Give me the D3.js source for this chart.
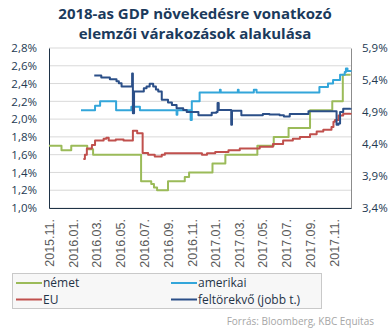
<!DOCTYPE html>
<html lang="hu">
<head>
<meta charset="utf-8">
<title>2018-as GDP növekedésre vonatkozó elemzői várakozások alakulása</title>
<script src="https://cdn.jsdelivr.net/npm/d3@7/dist/d3.min.js"></script>
<style>
  html, body { margin: 0; padding: 0; background: #fff; }
  svg { display: block; font-family: "Open Sans", "DejaVu Sans", sans-serif; }
</style>
</head>
<body>
<svg id="chart" width="390" height="330"></svg>
<script>
// Consensus forecasts for 2018 GDP growth, percent (date, value)
const nemet = [
  ["2015-11-01",1.70],["2015-12-03",1.65],["2015-12-28",1.70],["2016-02-07",1.66],["2016-02-22",1.60],
  ["2016-06-24",1.30],["2016-07-20",1.27],["2016-07-27",1.23],["2016-08-04",1.20],["2016-09-01",1.30],
  ["2016-10-14",1.35],["2016-10-25",1.40],["2016-12-24",1.50],["2017-01-26",1.60],["2017-04-18",1.70],
  ["2017-05-30",1.80],["2017-07-07",1.90],["2017-08-31",2.10],["2017-10-27",2.20],["2017-11-23",2.50],
  ["2017-12-13",2.50]
];
const amerikai = [
  ["2016-01-22",2.10],["2016-02-27",2.15],["2016-03-11",2.20],["2016-04-21",2.10],["2016-05-30",2.14],
  ["2016-06-21",2.10],["2016-09-23",2.05],["2016-09-25",2.10],["2016-10-29",1.99],["2016-11-01",2.20],
  ["2016-11-21",2.30],["2017-01-12",2.33],["2017-01-14",2.30],["2017-02-27",2.33],["2017-03-01",2.30],
  ["2017-04-09",2.33],["2017-04-16",2.30],["2017-09-24",2.36],["2017-10-16",2.40],["2017-10-29",2.44],
  ["2017-11-16",2.50],["2017-11-28",2.53],["2017-12-01",2.57],["2017-12-05",2.54],["2017-12-13",2.55]
];
const eu = [
  ["2016-01-28",1.55],["2016-02-01",1.60],["2016-02-06",1.67],["2016-02-19",1.71],["2016-02-27",1.76],
  ["2016-03-20",1.78],["2016-03-27",1.79],["2016-04-02",1.76],["2016-04-20",1.77],["2016-05-10",1.76],
  ["2016-06-03",1.87],["2016-06-14",1.84],["2016-06-28",1.62],["2016-07-12",1.60],["2016-07-29",1.58],
  ["2016-08-16",1.60],["2016-08-24",1.615],["2016-11-27",1.60],["2016-12-10",1.615],["2016-12-31",1.63],
  ["2017-02-03",1.65],["2017-03-04",1.67],["2017-04-24",1.69],["2017-05-28",1.72],["2017-06-23",1.76],
  ["2017-07-18",1.78],["2017-08-05",1.80],["2017-08-31",1.83],["2017-09-17",1.86],["2017-10-04",1.88],
  ["2017-10-25",1.91],["2017-10-30",1.97],["2017-11-03",1.99],["2017-11-12",2.04],["2017-11-24",2.06],
  ["2017-12-13",2.07]
];
// Emerging markets, plotted on the right axis
const feltorekvo = [
  ["2016-02-25",5.47],["2016-03-14",5.44],["2016-04-05",5.41],["2016-04-22",5.38],["2016-04-28",5.35],
  ["2016-05-05",5.30],["2016-06-01",5.50],["2016-06-03",4.88],["2016-06-06",5.22],["2016-07-01",5.27],
  ["2016-07-08",5.30],["2016-07-16",5.34],["2016-07-25",5.30],["2016-08-01",5.25],["2016-08-07",5.22],
  ["2016-08-16",5.09],["2016-09-01",5.05],["2016-09-11",5.01],["2016-09-23",4.96],["2016-10-10",4.93],
  ["2016-10-19",4.90],["2016-11-18",4.85],["2016-12-22",4.89],["2017-01-03",4.90],["2017-01-06",5.04],
  ["2017-01-09",4.93],["2017-02-10",4.70],["2017-02-12",4.92],["2017-03-08",4.85],["2017-05-02",4.87],
  ["2017-05-19",4.86],["2017-06-14",4.85],["2017-06-25",4.83],["2017-07-10",4.87],["2017-08-27",4.91],
  ["2017-11-07",4.70],["2017-11-12",4.72],["2017-11-16",4.90],["2017-11-24",4.95],["2017-12-13",4.96]
];

const leftTicks = [1.0, 1.2, 1.4, 1.6, 1.8, 2.0, 2.2, 2.4, 2.6, 2.8];
const rightTicks = [3.4, 3.9, 4.4, 4.9, 5.4, 5.9];
const titleLines = ["2018-as GDP növekedésre vonatkozó", "elemzői várakozások alakulása"];
const legendItems = [
  { name: "német", series: nemet, axis: "left", color: "#9bbb59" },
  { name: "amerikai", series: amerikai, axis: "left", color: "#33a6da" },
  { name: "EU", series: eu, axis: "left", color: "#c0504d" },
  { name: "feltörekvő (jobb t.)", series: feltorekvo, axis: "right", color: "#2b4f88" }
];
const source = "Forrás: Bloomberg, KBC Equitas";

const svg = d3.select("#chart");
const plot = { left: 49, right: 351, top: 48, bottom: 208 };
const parse = d3.timeParse("%Y-%m-%d");
const comma = v => d3.format(".1f")(v).replace(".", ",") + "%";

const x = d3.scaleTime()
  .domain([parse("2015-11-01"), parse("2017-12-14")])
  .range([plot.left, plot.right]);
const yL = d3.scaleLinear().domain([1.0, 2.8]).range([plot.bottom, plot.top]);
const yR = d3.scaleLinear().domain([3.4, 5.9]).range([plot.bottom, plot.top]);

// Title
svg.append("g").selectAll("text").data(titleLines).join("text")
  .attr("x", 195).attr("y", (d, i) => 19 + i * 20)
  .attr("text-anchor", "middle")
  .attr("fill", "#1b3a5c").attr("font-weight", "bold").attr("font-size", 15)
  .text(d => d);

// Gridlines
svg.append("g").selectAll("line").data(leftTicks).join("line")
  .attr("x1", plot.left).attr("x2", plot.right)
  .attr("y1", d => yL(d)).attr("y2", d => yL(d))
  .attr("stroke", "#d9d9d9").attr("stroke-width", 1);

// Left axis
const axL = svg.append("g").attr("transform", `translate(${plot.left},0)`)
  .call(d3.axisLeft(yL).tickValues(leftTicks).tickFormat(comma).tickSize(0).tickPadding(12));
axL.select(".domain").attr("stroke", "#1f3347");
axL.selectAll("text").attr("font-family", "Open Sans").attr("font-size", 11.5).attr("fill", "#243a52");

// Right axis
const axR = svg.append("g").attr("transform", `translate(${plot.right},0)`)
  .call(d3.axisRight(yR).tickValues(rightTicks).tickFormat(comma).tickSize(0).tickPadding(11));
axR.select(".domain").attr("stroke", "#8c8c8c");
axR.selectAll("text").attr("font-family", "Open Sans").attr("font-size", 11.5).attr("fill", "#243a52");

// Date axis with rotated labels
const axB = svg.append("g").attr("transform", `translate(0,${plot.bottom})`)
  .call(d3.axisBottom(x).ticks(d3.timeMonth.every(2)).tickFormat(d3.timeFormat("%Y.%m.")).tickSize(0));
axB.select(".domain").attr("stroke", "#1f3347");
axB.selectAll("text")
  .attr("font-family", "Liberation Sans, Arial, sans-serif").attr("font-size", 12.5).attr("fill", "#595959")
  .attr("text-anchor", "end")
  .attr("transform", "rotate(-90)")
  .attr("x", -11).attr("y", 0).attr("dy", "0.35em");

// Series lines
const lineFor = scale => d3.line()
  .x(d => x(parse(d[0])))
  .y(d => scale(d[1]))
  .curve(d3.curveStepAfter);

const drawOrder = [legendItems[0], legendItems[2], legendItems[1], legendItems[3]];
svg.append("g").selectAll("path").data(drawOrder).join("path")
  .attr("d", d => lineFor(d.axis === "left" ? yL : yR)(d.series))
  .attr("fill", "none")
  .attr("stroke", d => d.color)
  .attr("stroke-width", 2)
  .attr("stroke-linejoin", "round");

// Legend
const legend = svg.append("g");
legend.append("rect")
  .attr("x", 12.5).attr("y", 273.5).attr("width", 309).attr("height", 35)
  .attr("fill", "#f7f7f7").attr("stroke", "#c9c9c9");
const li = legend.selectAll("g.item").data(legendItems).join("g")
  .attr("class", "item")
  .attr("transform", (d, i) => `translate(${i % 2 ? 171 : 16},${i < 2 ? 283 : 299.5})`);
li.append("line").attr("x1", 0).attr("x2", 26).attr("stroke", d => d.color).attr("stroke-width", 2);
li.append("text").attr("x", 27).attr("dy", "0.35em")
  .attr("font-size", 12).attr("fill", "#1f3347")
  .text(d => d.name);

// Source note
svg.append("text")
  .attr("x", 374).attr("y", 325).attr("text-anchor", "end")
  .attr("font-size", 10).attr("fill", "#a6a6a6")
  .text(source);
</script>
</body>
</html>
